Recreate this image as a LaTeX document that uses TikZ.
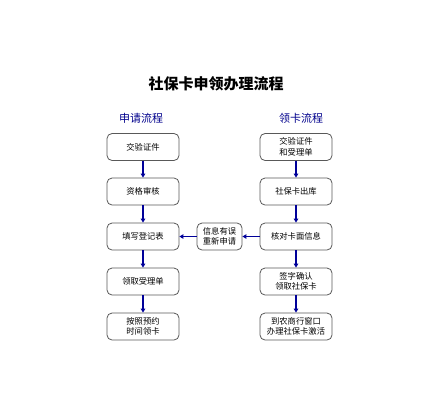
\documentclass[tikz,border=0pt]{standalone}
\usepackage{fontspec}
\newfontfamily\cjk{Noto Sans CJK SC}
\usetikzlibrary{arrows.meta}
\begin{document}
\begin{tikzpicture}[x=1pt,y=-1pt,
  stepbox/.style={draw=black!65,line width=0.8pt,rounded corners=5pt,minimum width=72pt,minimum height=27pt,align=center,font=\cjk\fontsize{8.3}{10.5}\selectfont,inner sep=1pt,fill=white},
  midbox/.style={stepbox,minimum width=45pt},
  flow/.style={draw=blue!60!black,line width=1.2pt,-{Triangle[length=4pt,width=4.5pt]}},
  hdr/.style={font=\cjk\fontsize{11}{12}\selectfont,text=blue!55!black}]
\useasboundingbox (0,0) rectangle (433,400);
\node[font=\cjk\bfseries\fontsize{15}{17}\selectfont] (title) at (216,84) {社保卡申领办理流程};
\node[hdr] (lh) at (141,118) {申请流程};
\node[hdr] (rh) at (301,118) {领卡流程};
\node[stepbox] (a1) at (143,147) {交验证件};
\node[stepbox] (a2) at (143,191.5) {资格审核};
\node[stepbox] (a3) at (143,236.5) {填写登记表};
\node[stepbox] (a4) at (143,281.5) {领取受理单};
\node[stepbox] (a5) at (143,326.5) {按照预约\\时间领卡};
\node[stepbox] (b1) at (296,147) {交验证件\\和受理单};
\node[stepbox] (b2) at (296,191.5) {社保卡出库};
\node[stepbox] (b3) at (296,236.5) {核对卡面信息};
\node[stepbox] (b4) at (296,281.5) {签字确认\\领取社保卡};
\node[stepbox] (b5) at (296,326.5) {到农商行窗口\\办理社保卡激活};
\node[midbox] (m) at (219.5,236.5) {信息有误\\重新申请};
\draw[flow] (a1) -- (a2);
\draw[flow] (a2) -- (a3);
\draw[flow] (a3) -- (a4);
\draw[flow] (a4) -- (a5);
\draw[flow] (b1) -- (b2);
\draw[flow] (b2) -- (b3);
\draw[flow] (b3) -- (b4);
\draw[flow] (b4) -- (b5);
\draw[flow] (b3) -- (m);
\draw[flow] (m) -- (a3);
\end{tikzpicture}
\end{document}
